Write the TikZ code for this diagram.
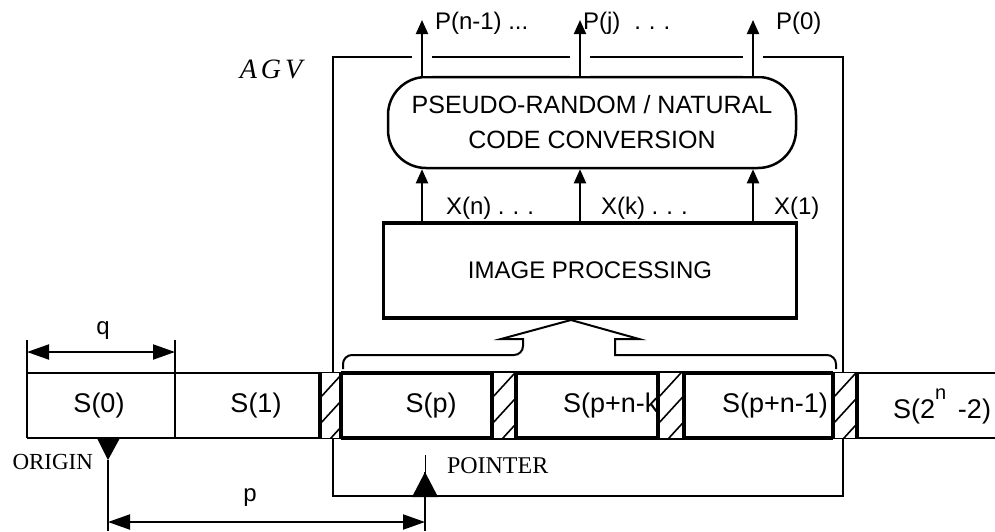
\documentclass[tikz,border=0pt]{standalone}
\usepackage{fontspec}
\setmainfont{Liberation Sans}
\newfontfamily\timesfont{Liberation Serif}
\usetikzlibrary{arrows.meta,positioning}

\begin{document}
\begin{tikzpicture}[
  x=1pt, y=-1pt,
  line width=2pt,
  txt/.style={inner sep=0pt, font=\fontsize{24}{28}\selectfont},
  cell/.style={inner sep=0pt, font=\fontsize{27}{30}\selectfont},
  serif/.style={inner sep=0pt, font=\timesfont\fontsize{23}{26}\selectfont},
  box/.style={draw, line width=3.5pt, minimum width=413pt, minimum height=95pt, inner sep=0pt, font=\fontsize{24}{28}\selectfont},
  roundbox/.style={draw, line width=2.5pt, rounded corners=38pt, minimum width=408pt, minimum height=91pt, align=center, font=\fontsize{25}{35}\selectfont},
  arrow/.style={-{Triangle[length=14pt,width=12pt]}, line width=2pt},
  dim/.style={{Triangle[length=22pt,width=15pt]}-{Triangle[length=22pt,width=15pt]}, line width=2pt},
  window/.style={line width=3.5pt},
  hatch/.style={line width=1.6pt}
]
\useasboundingbox (0,0) rectangle (995,531);

% AGV frame
\draw (333,57) rectangle (843,496);
\node[serif, font=\timesfont\itshape\fontsize{28}{32}\selectfont] (agv) at (271,69) {A\hspace{4pt}G\hspace{4pt}V};

\node[roundbox] (conv) at (592,122.5) {PSEUDO-RANDOM / NATURAL\\CODE CONVERSION};
\node[box] (improc) at (590,270.5) {IMAGE PROCESSING};

% outputs P and inputs X
\coordinate (pn) at (422,20);
\coordinate (pj) at (580,20);
\coordinate (p0) at (753,20);
\foreach \c in {pn,pj,p0}
  \draw[arrow, preaction={draw=white, line width=20pt, -}] (conv.north -| \c) -- (\c);
\foreach \c in {pn,pj,p0}
  \draw[arrow] (improc.north -| \c) -- (conv.south -| \c);

\node[txt, anchor=west] (lpn) at (434,23) {P(n-1) ...};
\node[txt, anchor=west] (lpj) at (582,23) {P(j)\hspace{14pt}.\,\,.\,\,.};
\node[txt, anchor=west] (lp0) at (775,23) {P(0)};
\node[txt, anchor=west] (lxn) at (445,208) {X(n) .\,\,.\,\,.};
\node[txt, anchor=west] (lxk) at (600,208) {X(k) .\,\,.\,\,.};
\node[txt, anchor=west] (lx1) at (773,208) {X(1)};

% read window to image processing
\coordinate (apex) at (571,320);
\draw (343,369) [rounded corners=9pt] |- (523,355) [sharp corners] -- (523,339) -- (501,339)
  -- (apex) -- (639,339) -- (615,339) -- (615,355) [rounded corners=9pt] -| (836,369);

% tape
\fill[white] (27,373) rectangle (995,438);
\draw (995,373) -- (27,373) (27,438) -- (995,438);
\draw (27,340) -- (27,438);
\draw (175,340) -- (175,438);
\draw[window] (341,373) -- (833,373) (341,438) -- (833,438);
\foreach \xa/\xb in {320/341, 492/516, 658/684, 833/857} {
  \fill[white] (\xa,373) rectangle (\xb,438);
  \begin{scope}
    \clip (\xa,373) rectangle (\xb,438);
    \foreach \yy in {398,424,...,480}
      \draw[hatch] (\xa,\yy) -- ++(32,-35);
  \end{scope}
  \draw[window] (\xa,373) -- (\xa,438) (\xb,373) -- (\xb,438);
}

\node[cell] (s0) at (99,406) {S(0)};
\node[cell] (s1) at (256,406) {S(1)};
\node[cell] (sp) at (431,406) {S(p)};
\node[cell, anchor=west] (spk) at (562,406) {S(p+n-k};
\node[cell] (spn) at (775,406) {S(p+n-1)};
\node[cell] (slast) at (942,406) {S(2\rlap{\raisebox{0.7em}{\fontsize{20}{20}\selectfont n}}\hspace{0.85em}-2)};

% origin and pointer marks
\fill (97,438) -- (120,438) -- (108,460) -- cycle;
\coordinate (origin) at (108,460);
\coordinate (orgfoot) at (108,531);
\draw (origin) -- (orgfoot);
\node[serif, anchor=east] (lorigin) at (94,462) {ORIGIN};

\fill (412,497) -- (438,497) -- (425,472) -- cycle;
\coordinate (pointer) at (425,472);
\coordinate (ptrtick) at (425,455);
\coordinate (ptrfoot) at (425,531);
\draw[line width=1pt] (pointer) -- (ptrtick);
\draw (pointer) -- (ptrfoot);
\node[serif, font=\timesfont\fontsize{24}{28}\selectfont, anchor=west] (lpointer) at (446,466) {POINTER};

% dimensions
\coordinate (qa) at (27,352);
\coordinate (qb) at (175,352);
\draw[dim] (qa) -- (qb);
\node[txt] (lq) at (103,331) {q};
\coordinate (pa) at (108,522);
\coordinate (pb) at (425,522);
\draw[dim] (pa) -- (pb);
\node[txt] (lp) at (250,498) {p};
\end{tikzpicture}
\end{document}
